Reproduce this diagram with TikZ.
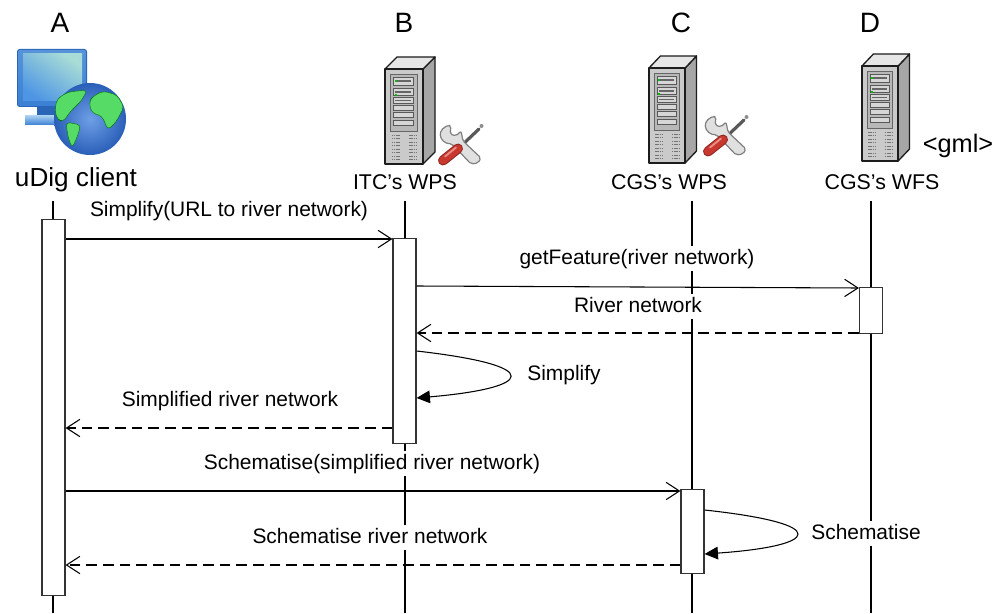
\documentclass[tikz,border=0pt]{standalone}
\usepackage{fontspec}
\setmainfont{Liberation Sans}
\usetikzlibrary{arrows.meta}
\definecolor{srvface}{HTML}{CACACA}
\definecolor{srvside}{HTML}{A6A6A6}
\definecolor{srvtop}{HTML}{E6E6E6}
\definecolor{srvpanel}{HTML}{B8B8B8}
\definecolor{srvbay}{HTML}{D6D6D6}
\definecolor{srvline}{HTML}{1C1C1C}
\definecolor{monblue}{HTML}{3A80D4}
\definecolor{mondark}{HTML}{2A66B8}
\definecolor{screenlight}{HTML}{A8DCD6}
\definecolor{screenblue}{HTML}{4E96E4}
\definecolor{baselight}{HTML}{A4CCF0}
\definecolor{globein}{HTML}{6E9FE6}
\definecolor{globeout}{HTML}{2A5FB8}
\definecolor{globegreen}{HTML}{55DB66}
\definecolor{toolred}{HTML}{C8382E}
\definecolor{toollight}{HTML}{E89088}
\tikzset{
  msglabel/.style={anchor=base,inner xsep=0pt,inner ysep=2pt,fill=white,text height=11.5pt,text depth=3.5pt,font=\fontsize{15.7}{18}\selectfont},
  headlabel/.style={anchor=base,inner sep=0pt,font=\fontsize{21}{24}\selectfont},
  actorlabel/.style={anchor=base,inner sep=0pt,font=\fontsize{16}{18}\selectfont},
  lifeline/.style={draw=black,line width=1pt},
  actbox/.style={draw=black!80,fill=white,line width=.9pt,minimum width=17.25pt,inner sep=0pt,anchor=north,rectangle},
  callmsg/.style={draw=black,line width=.8pt,-{Straight Barb[length=10pt,width=13pt,line width=.8pt]}},
  retmsg/.style={draw=black,line width=.8pt,dash pattern=on 8pt off 4.5pt,-{Straight Barb[length=10pt,width=13pt,line width=.8pt]}},
  selfmsg/.style={draw=black,line width=.8pt,-{Triangle[length=10pt,width=9.5pt]}},
  land/.style={fill=globegreen,draw=green!45!black,line width=.3pt,rounded corners=3pt},
  serverpic/.pic={
    \fill[srvside,draw=srvline,line width=1pt,line join=round] (38,0) -- (50,-12) -- (50,83) -- (38,95) -- cycle;
    \fill[srvtop,draw=srvline,line width=1pt,line join=round] (0,0) -- (12,-12) -- (50,-12) -- (38,0) -- cycle;
    \fill[srvface,draw=srvline,line width=1.4pt,line join=round] (0,0) rectangle (38,95);
    \fill[srvpanel,draw=black!60,line width=.4pt] (5.5,5) rectangle (32,62);
    \foreach \ya/\yb in {8.3/16,19.3/26.7,28.7/34.3,36.3/41.7,43.3/48.7,51/56.7}
      \fill[srvbay,draw=black!65,line width=.35pt] (8.3,\ya) rectangle (28.5,\yb);
    \fill[black!60] (10,11.5) rectangle (26,12.6);
    \fill[black!60] (10,22.5) rectangle (26,23.6);
    \fill[black!60] (10,31) rectangle (26,32);
    \fill[green!75!black] (9.5,11) rectangle (11.5,13);
    \fill[green!75!black] (9.5,25) rectangle (11.5,27);
    \foreach \y in {66,69.5,73,76.5,80,83.5,87,90.5}{
      \draw[black!55,line width=.7pt,dash pattern=on 1.2pt off .5pt] (6.5,\y) -- (15,\y);
      \draw[black!55,line width=.7pt,dash pattern=on 1.2pt off .5pt] (24,\y) -- (32,\y);
    }
  },
  toolpic/.pic={
    \draw[black!65,line width=2.4pt,line cap=round] (41,7) -- (22,25);
    \fill[black!45] (43.5,4) circle[radius=2];
    \fill[black!12,draw=black!50,line width=.9pt,rounded corners=1.5pt,line join=round]
      (10,3) -- (3,8) -- (2,15) -- (7,21) -- (14,22) -- (33,42) -- (40,41) -- (43,36) -- (25,19) -- (23,9)
      -- (18,14) -- (12,12) -- (13,4) -- cycle;
    \draw[toolred!70!black,line width=7.5pt,line cap=round] (20,26.5) -- (5,38.5);
    \draw[toolred,line width=6pt,line cap=round] (20,26.5) -- (5,38.5);
    \draw[toollight,line width=1.4pt,line cap=round] (18,25.5) -- (7,34.5);
  }
}
\begin{document}
\begin{tikzpicture}[x=.75pt,y=-.75pt]
\useasboundingbox (0,0) rectangle (1005,613);

% client icon
\fill[mondark,rounded corners=2pt] (17,49) rectangle (87,107);
\shade[top color=monblue!85!white,bottom color=monblue,rounded corners=1.5pt] (18,50) rectangle (86,106);
\shade[left color=screenlight,right color=screenblue,shading angle=-35] (23,54) rectangle (82,101);
\fill[mondark] (37,107) rectangle (57,116);
\shade[top color=baselight,bottom color=monblue] (25,116) rectangle (60,125);
\shade[inner color=globein,outer color=globeout] (90,119) circle[radius=36];
\fill[land]
  (55,110) -- (57,99) -- (68,92) -- (87,90) -- (82,100) -- (70,112) -- (63,122) -- (57,119) -- cycle;
\fill[land]
  (66,122) -- (81,125) -- (76,140) -- (72,148) -- (68,137) -- cycle;
\fill[land]
  (92,97) -- (103,91) -- (117,95) -- (124,107) -- (116,122) -- (108,130) -- (102,116) -- (92,113) -- (89,103) -- cycle;

% servers
\pic at (385,69) {serverpic};
\pic[xscale=.95] at (649,68) {serverpic};
\pic[xscale=.95] at (862,66) {serverpic};
\pic at (438,122) {toolpic};
\pic at (703,113) {toolpic};

% head labels
\node[headlabel] (hA) at (60,33) {A};
\node[headlabel] (hB) at (404,33) {B};
\node[headlabel] (hC) at (681,33) {C};
\node[headlabel] (hD) at (870,33) {D};
\node[anchor=base,inner sep=0pt,font=\fontsize{19.6}{22}\selectfont] (aA) at (76,186) {uDig client};
\node[actorlabel] (aB) at (405,189) {ITC’s WPS};
\node[actorlabel] (aC) at (669,189) {CGS’s WPS};
\node[actorlabel] (aD) at (882,189) {CGS’s WFS};
\node[anchor=base,inner sep=0pt,font=\fontsize{19}{22}\selectfont] (gml) at (958,152) {<gml>};

% lifelines
\coordinate (tA) at (53,201); \coordinate (eA) at (53,613);
\coordinate (tB) at (405,201); \coordinate (eB) at (405,613);
\coordinate (tC) at (692,201); \coordinate (eC) at (692,613);
\coordinate (tD) at (871,201); \coordinate (eD) at (871,613);
\draw[lifeline] (tA) -- (eA);
\draw[lifeline] (tB) -- (eB);
\draw[lifeline] (tC) -- (eC);
\draw[lifeline] (tD) -- (eD);

% activation boxes
\node[actbox,minimum height=282pt] (bA) at (53.5,219) {};
\node[actbox,minimum height=153.75pt] (bB) at (404.5,238) {};
\node[actbox,minimum height=63pt] (bC) at (692.5,489) {};
\node[actbox,minimum height=34.5pt] (bD) at (871,287) {};

% messages
\coordinate (m1a) at (bA.east |- 0,239); \coordinate (m1b) at (bB.west |- 0,239);
\draw[callmsg] (m1a) -- (m1b);
\coordinate (m2a) at (bB.east |- 0,286); \coordinate (m2b) at (bD.west |- 0,288);
\draw[callmsg] (m2a) -- (m2b);
\coordinate (m3a) at (bD.west |- 0,333); \coordinate (m3b) at (bB.east |- 0,333);
\draw[retmsg] (m3a) -- (m3b);
\coordinate (s1a) at (bB.east |- 0,351); \coordinate (s1b) at (bB.east |- 0,398);
\draw[selfmsg] (s1a) .. controls (548,366) and (533,388) .. (s1b);
\coordinate (m4a) at (bB.west |- 0,428); \coordinate (m4b) at (bA.east |- 0,428);
\draw[retmsg] (m4a) -- (m4b);
\coordinate (m5a) at (bA.east |- 0,491); \coordinate (m5b) at (bC.west |- 0,491);
\draw[callmsg] (m5a) -- (m5b);
\coordinate (s2a) at (bC.east |- 0,510); \coordinate (s2b) at (bC.east |- 0,554);
\draw[selfmsg] (s2a) .. controls (834,524) and (820,546) .. (s2b);
\coordinate (m6a) at (bC.west |- 0,565); \coordinate (m6b) at (bA.east |- 0,565);
\draw[retmsg] (m6a) -- (m6b);

% message labels
\node[msglabel] (l1) at (229,216) {Simplify(URL to river network)};
\node[msglabel] (l2) at (637,264) {getFeature(river network)};
\node[msglabel] (l3) at (638,312) {River network};
\node[msglabel] (l4) at (564,380) {Simplify};
\node[msglabel] (l5) at (230,406) {Simplified river network};
\node[msglabel] (l6) at (372,469) {Schematise(simplified river network)};
\node[msglabel] (l7) at (866,539) {Schematise};
\node[msglabel] (l8) at (370,543) {Schematise river network};
\end{tikzpicture}
\end{document}
